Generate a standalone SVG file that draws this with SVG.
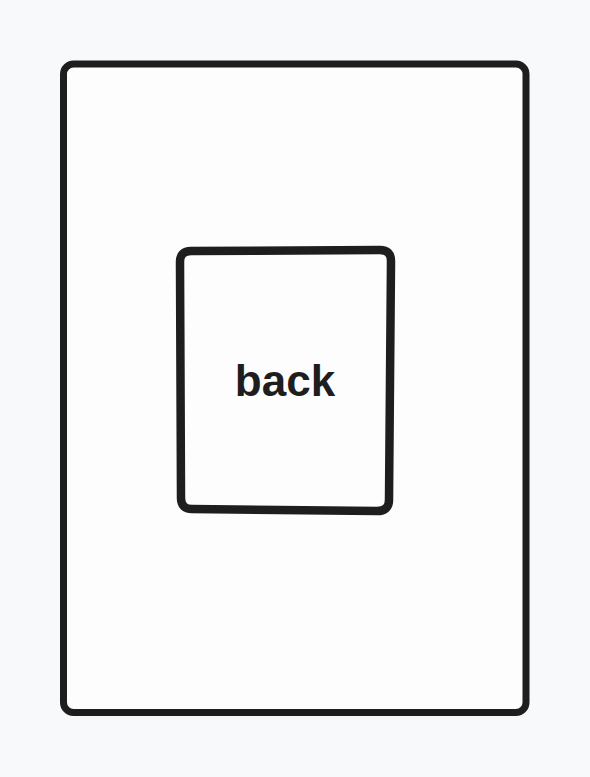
<svg xmlns="http://www.w3.org/2000/svg" width="590" height="777" viewBox="0 0 590 777">
<style>
.box{fill:#fdfdfe;stroke:#1e1e1e;stroke-width:7;stroke-linejoin:round}
.inner{stroke-width:8.5}
.lbl{font-family:"Liberation Sans",Arial,sans-serif;font-weight:bold;font-size:44px;fill:#1e1e1e;text-anchor:middle}
</style>
<rect width="590" height="777" fill="#f8f9fb"/>
<g id="outer">
<rect class="box" x="63.5" y="64" width="462.5" height="648.5" rx="10"/>
</g>
<g id="back">
<path class="box inner" d="M191,251 L380,250 Q391,250 391,261 L389,500 Q389,511 377,511 L192,509 Q181,509 181,498 L180,262 Q180,251 191,251 Z"/>
<text class="lbl" x="285" y="396">back</text>
</g>
<g id="connectors"/>
</svg>
